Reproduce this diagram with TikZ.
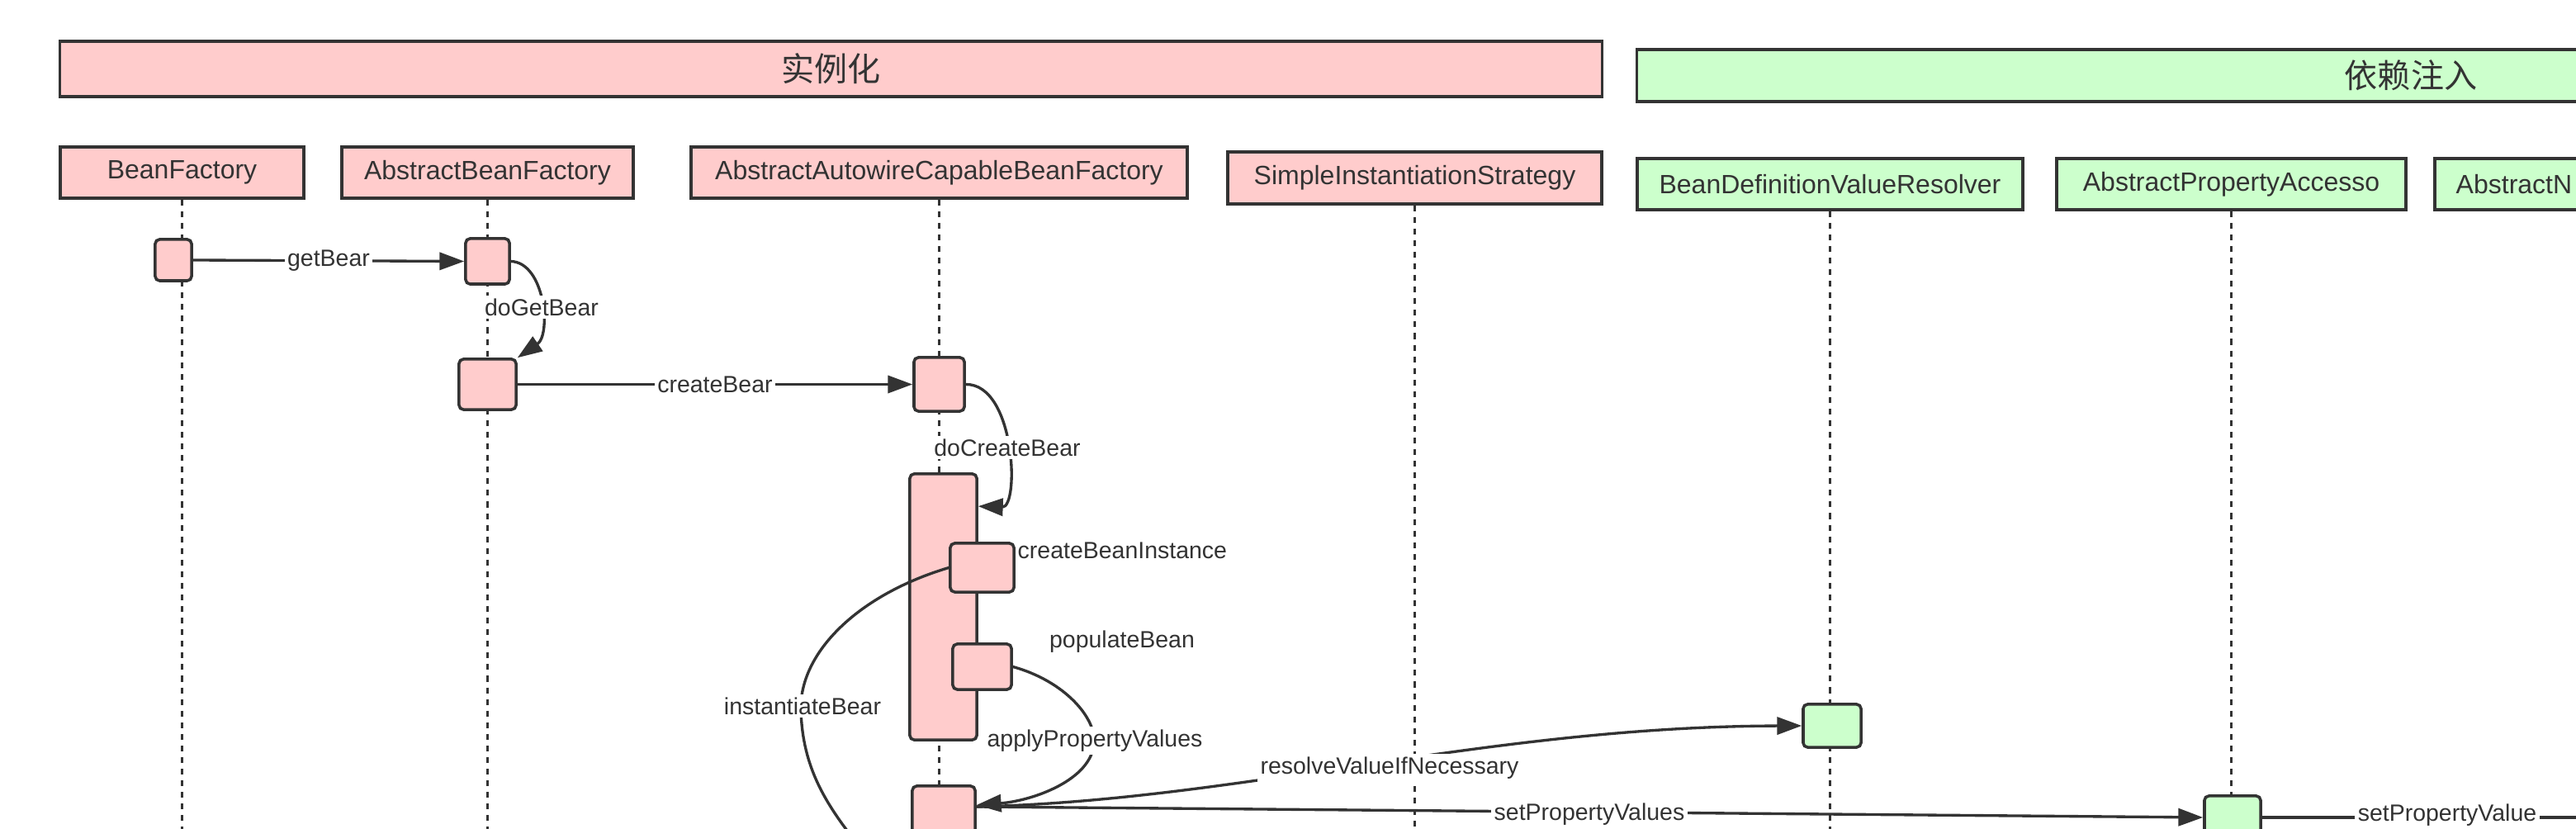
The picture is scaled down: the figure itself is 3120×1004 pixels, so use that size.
\documentclass[tikz,border=0pt]{standalone}
\usepackage{fontspec}
\setmainfont{Liberation Sans}
\newfontfamily\cjk{Noto Sans CJK SC}
\usetikzlibrary{arrows.meta,calc}
\definecolor{pinkf}{HTML}{FFCCCC}
\definecolor{greenf}{HTML}{CCFFCC}
\definecolor{ink}{HTML}{333333}
\begin{document}
\begin{tikzpicture}[x=0.01cm,y=-0.01cm,
 hdr/.style={draw=ink, line width=1pt, text=ink, font=\fontsize{9.1}{11}\selectfont, inner sep=0pt, anchor=center},
 pinkhdr/.style={hdr, fill=pinkf},
 greenhdr/.style={hdr, fill=greenf},
 ttl/.style={draw=ink, line width=1pt, text=ink, font=\cjk\fontsize{11.4}{13}\selectfont, inner sep=0pt},
 actbox/.style={draw=ink, line width=1pt, rounded corners=1.5pt, inner sep=0pt},
 pact/.style={actbox, fill=pinkf},
 gact/.style={actbox, fill=greenf},
 lifeline/.style={draw=ink, line width=0.8pt, dash pattern=on 2pt off 2pt},
 msg/.style={draw=ink, line width=0.95pt, -{Triangle[length=8.5pt,width=6pt]}},
 msgline/.style={draw=ink, line width=0.95pt},
 lbl/.style={fill=white, text=ink, font=\fontsize{8.1}{10}\selectfont, inner sep=1pt},
 txt/.style={text=ink, font=\fontsize{8.1}{10}\selectfont, inner sep=0pt},
]
\path[use as bounding box] (0,0) rectangle (3120,1004);
\clip (0,0) rectangle (3120,1004);
\fill[white] (0,0) rectangle (3120,1004);

% titles
\node[ttl, fill=pinkf, minimum width=18.67cm, minimum height=0.67cm] (t1) at (1006.5,83.5) {实例化};
\node[ttl, fill=greenf, minimum width=18.74cm, minimum height=0.63cm] (t2) at (2920,91.5) {依赖注入};

% headers
\node[pinkhdr, minimum width=2.95cm, minimum height=0.62cm] (hBF) at (220.5,209) {BeanFactory};
\node[pinkhdr, minimum width=3.53cm, minimum height=0.62cm] (hABF) at (590.5,209) {AbstractBeanFactory};
\node[pinkhdr, minimum width=6.01cm, minimum height=0.62cm] (hAC) at (1137.5,209) {AbstractAutowireCapableBeanFactory};
\node[pinkhdr, minimum width=4.53cm, minimum height=0.63cm] (hSIS) at (1713.5,215.5) {SimpleInstantiationStrategy};
\node[greenhdr, minimum width=4.67cm, minimum height=0.62cm] (hBDVR) at (2216.5,223) {BeanDefinitionValueResolver};
\node[greenhdr, minimum width=4.23cm, minimum height=0.62cm] (hAPA) at (2702.5,223) {AbstractPropertyAccesso};
\node[greenhdr, minimum width=4.00cm, minimum height=0.62cm] (hAN) at (3149,223) {};
\node[text=ink, font=\fontsize{9.1}{11}\selectfont, inner sep=0pt, anchor=west] (hANt) at (2974,223) {AbstractN};

% lifelines
\draw[lifeline] (hBF.south) -- ++(0,780);
\draw[lifeline] (hABF.south) -- ++(0,780);
\draw[lifeline] (hAC.south) -- ++(0,780);
\draw[lifeline] (hSIS.south) -- ++(0,780);
\draw[lifeline] (hBDVR.south) -- ++(0,780);
\draw[lifeline] (hAPA.south) -- ++(0,780);

% activations
\node[pact, minimum width=0.44cm, minimum height=0.50cm] (aBF) at (210,315) {};
\node[pact, minimum width=0.53cm, minimum height=0.55cm] (aABF1) at (590.5,316.5) {};
\node[pact, minimum width=0.69cm, minimum height=0.61cm] (aABF2) at (590.5,465.5) {};
\node[pact, minimum width=0.61cm, minimum height=0.65cm] (aAC1) at (1137.5,465.5) {};
\node[pact, minimum width=0.81cm, minimum height=3.22cm] (aACbig) at (1142.5,735) {};
\node[pact, minimum width=0.77cm, minimum height=0.59cm] (aCBI) at (1189.5,687.5) {};
\node[pact, minimum width=0.71cm, minimum height=0.55cm] (aPB) at (1189.5,807.5) {};
\node[pact, minimum width=0.76cm, minimum height=0.58cm] (aACbot) at (1143,981) {};
\node[gact, minimum width=0.70cm, minimum height=0.52cm] (aBDVR) at (2219,879) {};
\node[gact, minimum width=0.68cm, minimum height=0.52cm] (aAPA) at (2704,990) {};

% messages
\draw[msg] (aBF.east) -- (aABF1.west) node[lbl, midway] (lGet) {getBear};
\draw[msg] (aABF1.east) .. controls (660,318) and (668,405) .. (aABF2.north east);
\node[lbl] (lDoGet) at (656,372) {doGetBear};
\draw[msg] (aABF2.east) -- (aAC1.west) node[lbl, midway] (lCreate) {createBear};
\draw[msg] (aAC1.east) .. controls (1230,465) and (1235,615) .. ($(aACbig.north east)+(0,41)$);
\node[lbl] (lDoCreate) at (1220,542) {doCreateBear};
\node[txt, anchor=west] (lCBI) at (1232,667) {createBeanInstance};
\node[txt] (lPB) at (1359,777) {populateBean};
\coordinate (offB) at (1045,1030);
\draw[msgline] (aCBI.west) .. controls (1040,720) and (968,790) .. (970,860) .. controls (972,930) and (1000,975) .. (offB);
\node[lbl] (lInst) at (972,855) {instantiateBear};
\draw[msg] (aPB.east) .. controls (1290,825) and (1328,870) .. (1325,900) .. controls (1322,945) and (1250,970) .. ($(aACbot.east)+(0,-6)$);
\node[lbl] (lApply) at (1326,897) {applyPropertyValues};
\draw[msg] ($(aACbot.east)+(0,-4)$) .. controls (1500,970) and (1800,880) .. (aBDVR.west);
\node[lbl] (lResolve) at (1683,930) {resolveValueIfNecessary};
\draw[msg] ($(aACbot.east)+(0,-4)$) -- (aAPA.west);
\node[lbl] (lSetPVs) at (1925,986) {setPropertyValues};
\coordinate (offR) at (3150,990);
\draw[msgline] (aAPA.east) -- (offR);
\node[lbl] (lSetPV) at (2964,987) {setPropertyValue};
\end{tikzpicture}
\end{document}
